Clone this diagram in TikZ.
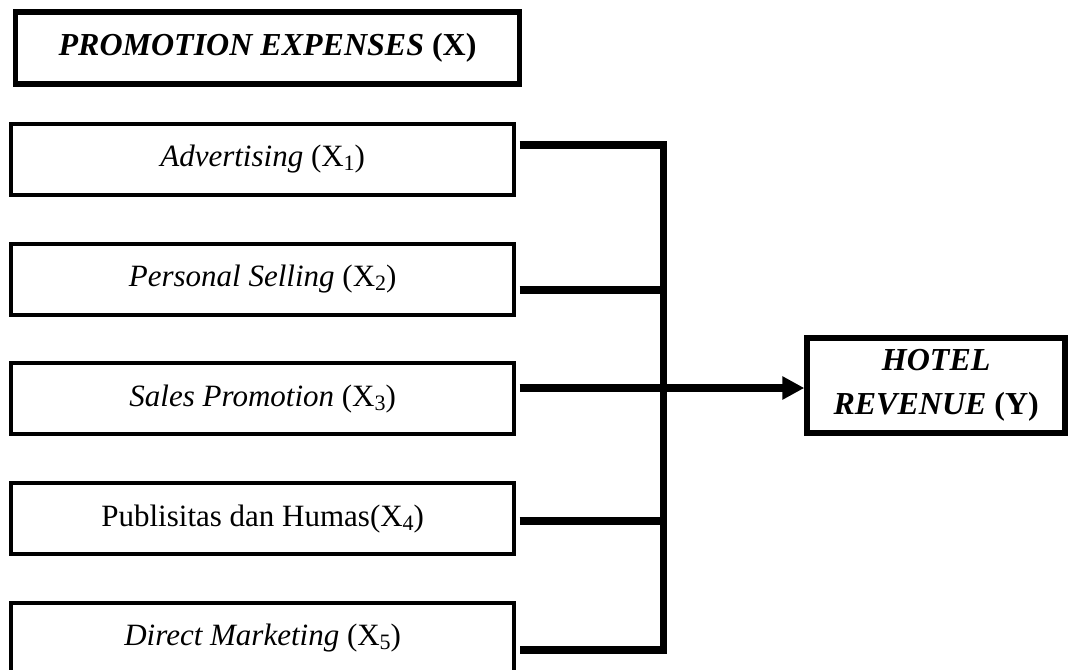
\documentclass[tikz,border=0pt]{standalone}
\usepackage{fontspec}
\setmainfont{Liberation Serif}
\usetikzlibrary{arrows.meta,calc}
\newcommand{\mysub}[1]{\raisebox{-4pt}{\fontsize{22}{22}\selectfont #1}}
\begin{document}
\begin{tikzpicture}[x=1pt,y=-1pt,
  titlebox/.style={draw=black,line width=5.5pt,rectangle,minimum width=504pt,minimum height=72pt,inner sep=0pt,font=\fontsize{32}{38}\selectfont\bfseries},
  varbox/.style={draw=black,line width=4pt,rectangle,minimum width=502.7pt,minimum height=71pt,inner sep=0pt,font=\fontsize{31}{37}\selectfont},
  resbox/.style={draw=black,line width=6pt,rectangle,minimum width=257.7pt,minimum height=95pt,inner sep=0pt,align=center,font=\fontsize{32}{44}\selectfont\bfseries},
  bus/.style={line width=7.5pt,line join=miter},
  arrowline/.style={line width=8pt,-{Triangle[length=22pt,width=22pt]}}
]
\useasboundingbox (0,0) rectangle (1072,670);
\clip (0,0) rectangle (1072,670);
\fill[white] (0,0) rectangle (1072,670);

\node[titlebox] (title) at (267.6,48) {\textit{PROMOTION EXPENSES} (X)};

\node[varbox] (x1) at (262.7,159.2) {\textit{Advertising} (X\mysub{1})};
\node[varbox] (x2) at (262.7,279.0) {\textit{Personal Selling} (X\mysub{2})};
\node[varbox] (x3) at (262.7,398.8) {\textit{Sales Promotion} (X\mysub{3})};
\node[varbox] (x4) at (262.7,518.6) {Publisitas dan Humas(X\mysub{4})};
\node[varbox] (x5) at (262.7,638.4) {\textit{Direct Marketing} (X\mysub{5})};

\node[resbox] (y) at (936.2,385.5) {\textit{HOTEL}\\\textit{REVENUE} (Y)};

\coordinate (s1) at (519.5,145);
\coordinate (s2) at (519.5,290);
\coordinate (s3) at (519.5,388);
\coordinate (s4) at (519.5,521);
\coordinate (s5) at (519.5,650);
\coordinate (j1) at (663.5,145);
\coordinate (j2) at (663.5,290);
\coordinate (j4) at (663.5,521);
\coordinate (j5) at (663.5,650);

\draw[bus] (s1) -- (j1) -- (j5) -- (s5);
\draw[bus] (s2) -- (j2);
\draw[bus] (s4) -- (j4);
\draw[arrowline] (s3) -- (s3 -| y.west);
\end{tikzpicture}
\end{document}
